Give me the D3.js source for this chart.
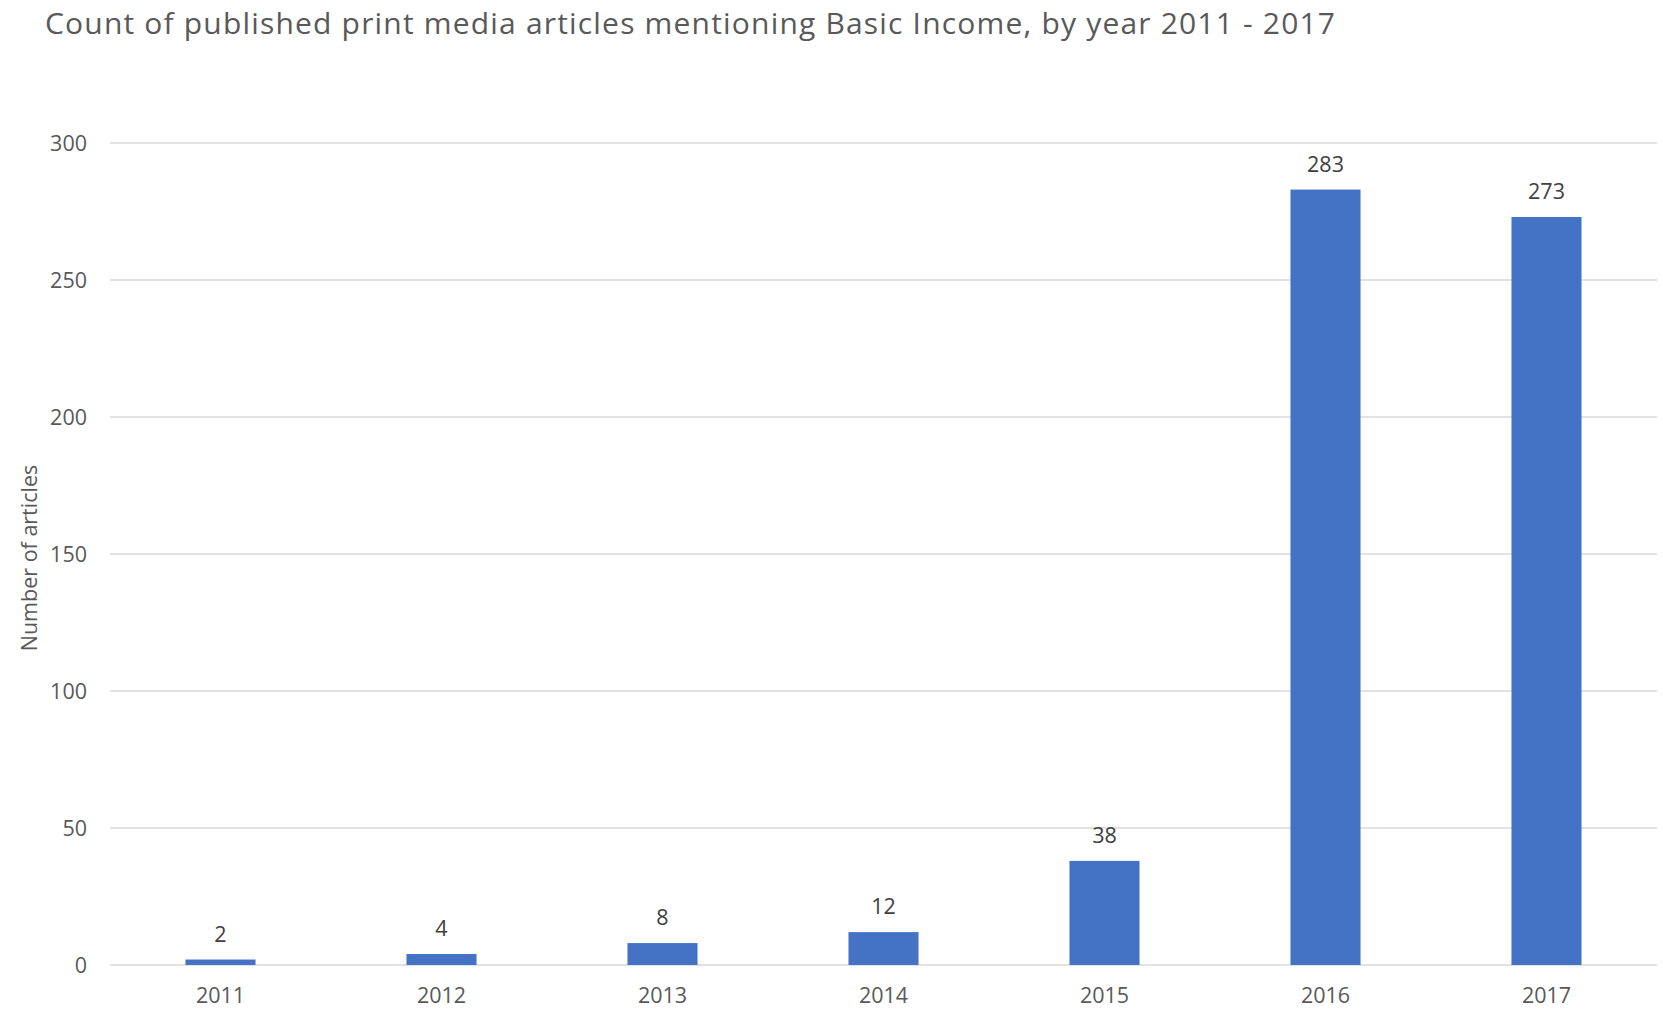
<!DOCTYPE html>
<html>
<head>
<meta charset="utf-8">
<script src="https://cdn.jsdelivr.net/npm/d3@7"></script>
<style>
  html, body { margin: 0; padding: 0; background: #ffffff; }
  svg { display: block; }
  text { font-family: "Open Sans", "Noto Sans", sans-serif; }
</style>
</head>
<body>
<svg id="chart" width="1663" height="1012"></svg>
<script>
// Articles per year
const years = ["2011", "2012", "2013", "2014", "2015", "2016", "2017"];
const counts = [2, 4, 8, 12, 38, 283, 273];
const yTicks = [0, 50, 100, 150, 200, 250, 300];

const titleText = "Count of published print media articles mentioning Basic Income, by year 2011 - 2017";
const yAxisTitle = "Number of articles";

const W = 1663, H = 1012;
const plot = { left: 110, right: 1657, top: 143, bottom: 965 };
const labelSize = 21.5;

const svg = d3.select("#chart");

const x = d3.scaleBand()
  .domain(years)
  .range([plot.left, plot.right])
  .paddingInner(0.683)
  .paddingOuter(0.3415);

const y = d3.scaleLinear()
  .domain([0, 300])
  .range([plot.bottom, plot.top]);

// Title, tightened so it spans the chart width
const title = svg.append("text")
  .attr("x", 45)
  .attr("y", 34)
  .attr("fill", "#595959")
  .attr("font-size", 30)
  .text(titleText);
const tw = title.node().getComputedTextLength();
title.attr("letter-spacing", (1290 - tw) / (titleText.length - 1));

// Horizontal gridlines
svg.append("g")
  .selectAll("line")
  .data(yTicks)
  .join("line")
  .attr("x1", plot.left)
  .attr("x2", plot.right)
  .attr("y1", d => y(d))
  .attr("y2", d => y(d))
  .attr("stroke", "#d9d9d9")
  .attr("stroke-width", 1.5);

// Y axis labels
const yAxis = svg.append("g")
  .attr("transform", `translate(${plot.left - 23},0)`)
  .call(d3.axisLeft(y).tickValues(yTicks).tickSize(0).tickPadding(0));
yAxis.select(".domain").remove();
yAxis.selectAll("text")
  .attr("font-family", "'Open Sans', 'Noto Sans', sans-serif")
  .attr("font-size", labelSize)
  .attr("fill", "#595959")
  .attr("dy", "0.36em");

// X axis labels
const xAxis = svg.append("g")
  .attr("transform", `translate(0,${plot.bottom})`)
  .call(d3.axisBottom(x).tickSize(0).tickPadding(0));
xAxis.select(".domain").remove();
xAxis.selectAll("text")
  .attr("font-family", "'Open Sans', 'Noto Sans', sans-serif")
  .attr("font-size", labelSize)
  .attr("fill", "#595959")
  .attr("dy", null)
  .attr("y", 38);

// Bars
svg.append("g")
  .selectAll("rect")
  .data(years.map((yr, i) => ({ yr, v: counts[i] })))
  .join("rect")
  .attr("x", d => x(d.yr))
  .attr("width", x.bandwidth())
  .attr("y", d => y(d.v))
  .attr("height", d => plot.bottom - y(d.v))
  .attr("fill", "#4472c4");

// Value labels
svg.append("g")
  .selectAll("text")
  .data(years.map((yr, i) => ({ yr, v: counts[i] })))
  .join("text")
  .attr("x", d => x(d.yr) + x.bandwidth() / 2)
  .attr("y", d => y(d.v) - 18)
  .attr("text-anchor", "middle")
  .attr("font-size", labelSize)
  .attr("fill", "#404040")
  .text(d => d.v);

// Y axis title
svg.append("text")
  .attr("transform", `translate(37,${(plot.top + plot.bottom) / 2 + 4}) rotate(-90)`)
  .attr("text-anchor", "middle")
  .attr("font-size", labelSize)
  .attr("fill", "#595959")
  .text(yAxisTitle);
</script>
</body>
</html>
